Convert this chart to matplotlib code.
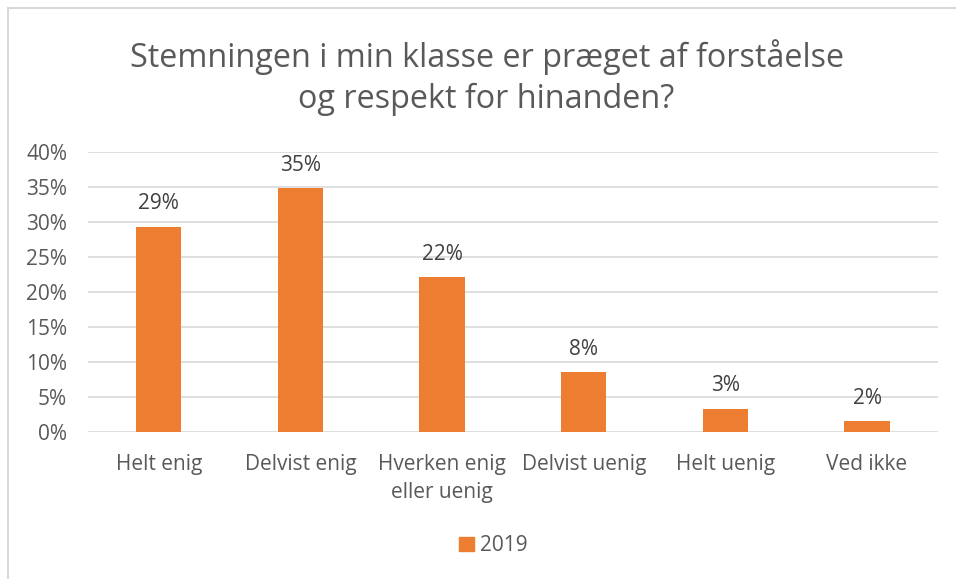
import numpy as np
import matplotlib.pyplot as plt
from matplotlib.lines import Line2D
from matplotlib.patches import Patch
from matplotlib.ticker import PercentFormatter
#------------------------------
categories = ["Helt enig", "Delvist enig", "Hverken enig\neller uenig",
              "Delvist uenig", "Helt uenig", "Ved ikke"]
values = [0.293, 0.348, 0.221, 0.085, 0.033, 0.015]
labels = ["29%", "35%", "22%", "8%", "3%", "2%"]
series = "2019"
title = "Stemningen i min klasse er præget af forståelse\nog respekt for hinanden?"
#------------------------------
txt = '#595959'
orange = '#ED7D31'
grid = '#D9D9D9'
plt.rcParams['font.family'] = ['Open Sans', 'DejaVu Sans']
fs = 15

fig = plt.figure(figsize=(9.56, 5.79), dpi=100)
ax = fig.add_axes([0.092, 0.254, 0.889, 0.4835])

x = np.arange(len(categories))
ax.bar(x, values, width=0.32, color=orange, zorder=3)

for xi, v, lab in zip(x, values, labels):
    ax.text(xi, v + 0.018, lab, ha='center', va='bottom', fontsize=fs, color='#404040')

ax.set_ylim(0, 0.4)
ax.set_xlim(-0.5, len(categories) - 0.5)
ax.set_yticks(np.arange(0, 0.41, 0.05))
ax.yaxis.set_major_formatter(PercentFormatter(1.0, decimals=0))
ax.grid(axis='y', color=grid, lw=1.2, zorder=0)
ax.set_xticks(x)
ax.set_xticklabels(categories, fontsize=fs, color=txt, linespacing=1.45)
ax.tick_params(axis='y', labelsize=fs, labelcolor=txt, length=0, pad=15)
ax.tick_params(axis='x', length=0, pad=16)
for s in ax.spines.values():
    s.set_visible(False)

fig.text(0.509, 0.866, title, ha='center', va='center', fontsize=23.3,
         color=txt, linespacing=1.3)

fig.legend(handles=[Patch(color=orange, label=series)], loc='center',
           bbox_to_anchor=(0.516, 0.057), frameon=False, fontsize=fs,
           handlelength=0.7, handleheight=0.7, handletextpad=0.3,
           labelcolor=txt)

# chart border (left and top visible)
fig.add_artist(Line2D([0.008, 0.008], [0, 0.986], color=grid, lw=1.5))
fig.add_artist(Line2D([0.008, 1], [0.986, 0.986], color=grid, lw=1.5))

fig.savefig('out.png', dpi=100)
